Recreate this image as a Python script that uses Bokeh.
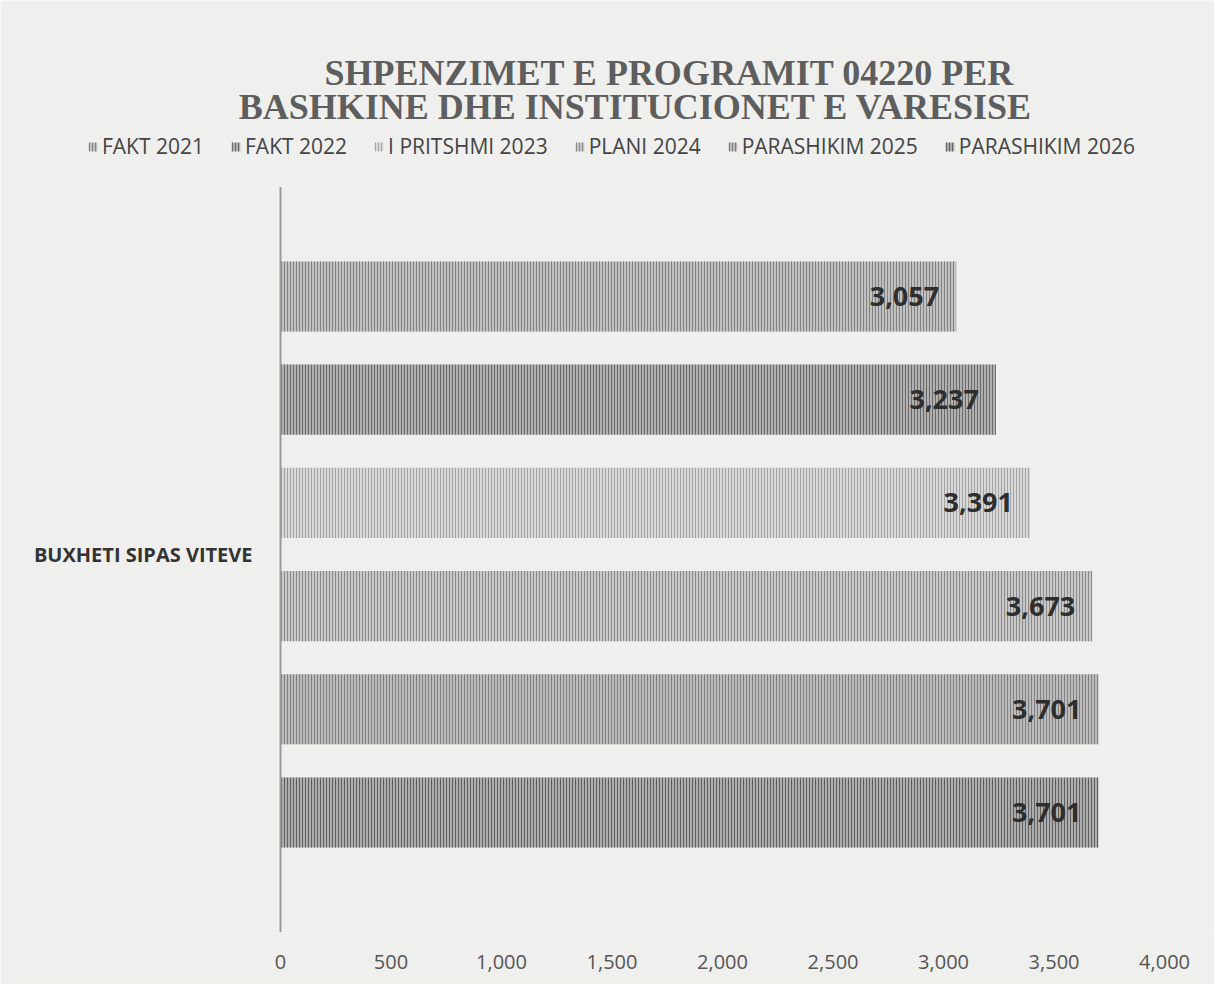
from bokeh.plotting import figure
from bokeh.models import (Range1d, FixedTicker, NumeralTickFormatter, Legend, LegendItem,
                          Label, ColumnDataSource, LabelSet)
from bokeh.core.properties import value
from bokeh.embed import file_html
from bokeh.resources import INLINE

# ---- data ----
series = ["FAKT 2021", "FAKT 2022", "I PRITSHMI 2023", "PLANI 2024", "PARASHIKIM 2025", "PARASHIKIM 2026"]
values = [3057, 3237, 3391, 3673, 3701, 3701]
category = "BUXHETI SIPAS VITEVE"
title_lines = ["SHPENZIMET E PROGRAMIT 04220 PER", "BASHKINE DHE INSTITUCIONET E VARESISE"]
x_ticks = [0, 500, 1000, 1500, 2000, 2500, 3000, 3500, 4000]

# ---- styles ----
fills = ["#c0c0c0", "#b0b0b0", "#d8d8d8", "#c8c8c8", "#bcbcbc", "#acacac"]
hatches = ["#838383", "#6a6a6a", "#a4a4a4", "#8a8a8a", "#808080", "#626262"]
bg = "#efefed"

positions = list(range(1, len(series) + 1))
band = (-0.06, 7.16)          # extent of the category band (value axis line)

p = figure(width=1214, height=984, output_backend="svg", toolbar_location=None,
           x_range=Range1d(-1267, 4226), y_range=Range1d(7.163, -1.868),
           min_border_left=0, min_border_right=0, min_border_top=0, min_border_bottom=52,
           background_fill_color=bg, border_fill_color=bg, outline_line_color=None)
p.grid.visible = False
p.yaxis.visible = False

renderers = []
for i, (s, v) in enumerate(zip(series, values)):
    src = ColumnDataSource(dict(y=[positions[i]], right=[v]))
    r = p.hbar(y="y", right="right", left=0, height=0.68, source=src,
               fill_color=fills[i], line_color=None,
               hatch_pattern="|", hatch_color=hatches[i], hatch_scale=3, hatch_weight=1)
    renderers.append(r)

# category axis line at x = 0 and its label
p.segment(x0=[0], x1=[0], y0=[band[0]], y1=[band[1]], line_color="#9a9a9a", line_width=2)
p.add_layout(Label(x=0, y=(positions[0] + positions[-1]) / 2, text=category,
                   x_offset=-28, text_align="right", text_baseline="middle",
                   text_font="Open Sans", text_font_style="bold",
                   text_font_size="20px", text_color="#333333"))

lab_src = ColumnDataSource(dict(x=values, y=positions, t=[f"{v:,}" for v in values]))
p.add_layout(LabelSet(x="x", y="y", text="t", source=lab_src, x_offset=-17,
                      text_align="right", text_baseline="middle",
                      text_font=value("Open Sans"), text_font_style="bold",
                      text_font_size="27px", text_color="#2e2e2e"))

# x axis
xa = p.xaxis[0]
xa.ticker = FixedTicker(ticks=x_ticks)
xa.formatter = NumeralTickFormatter(format="0,0")
xa.axis_line_color = None
xa.major_tick_line_color = None
xa.minor_tick_line_color = None
xa.major_label_standoff = 16
xa.major_label_text_font = "Open Sans"
xa.major_label_text_font_size = "20px"
xa.major_label_text_color = "#555555"

# legend
legend = Legend(items=[LegendItem(label=s, renderers=[r]) for s, r in zip(series, renderers)],
                orientation="horizontal", location=(87, 772),
                background_fill_alpha=0, border_line_color=None,
                label_text_font="Open Sans", label_text_font_size="21px",
                label_text_color="#444444", glyph_width=11, glyph_height=11,
                label_standoff=4, spacing=26, padding=0, margin=0)
p.add_layout(legend, "center")

# two title lines
for line, xx, yy in zip(title_lines, [669, 635], [860, 826]):
    p.add_layout(Label(x=xx, y=yy, x_units="screen", y_units="screen", text=line,
                       text_align="center", text_baseline="middle",
                       text_font="Liberation Serif", text_font_style="bold",
                       text_font_size="36px", text_color="#5e5e5e"))

open("out.html", "w").write(file_html(p, INLINE))
